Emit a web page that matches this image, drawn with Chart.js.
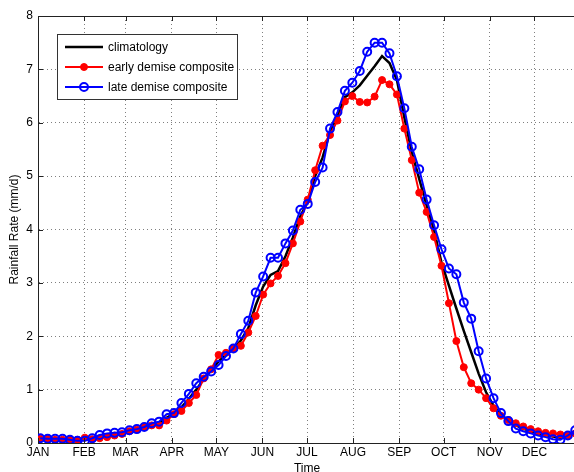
<!DOCTYPE html>
<html>
<head>
<meta charset="utf-8">
<script src="https://cdn.jsdelivr.net/npm/chart.js@4/dist/chart.umd.min.js"></script>
<style>
html,body{margin:0;padding:0;background:#fff;overflow:hidden;}
canvas{display:block;}
</style>
</head>
<body>
<canvas id="c" width="576" height="472"></canvas>
<script>
// ---- data ----
const monthLabels = ['JAN','FEB','MAR','APR','MAY','JUN','JUL','AUG','SEP','OCT','NOV','DEC'];
const monthStartDays = [0,31,59,90,120,151,181,212,243,273,304,334];
const pentads = Array.from({length:73},(_,k)=>k+1); // pentad numbers 1..73
const climatology = [0.08,0.08,0.07,0.07,0.06,0.05,0.06,0.08,0.11,0.14,0.16,0.19,0.23,0.26,0.30,0.35,0.37,0.47,0.55,0.67,0.83,1.00,1.20,1.36,1.53,1.66,1.77,1.92,2.15,2.58,2.93,3.15,3.22,3.50,3.85,4.25,4.52,5.00,5.35,5.83,6.12,6.48,6.57,6.70,6.88,7.06,7.25,7.12,6.80,6.10,5.45,4.95,4.45,3.98,3.38,2.95,2.52,2.10,1.70,1.30,0.95,0.70,0.53,0.42,0.33,0.27,0.22,0.18,0.15,0.12,0.10,0.12,0.18];
const earlyDemise = [0.08,0.08,0.06,0.06,0.06,0.06,0.10,0.07,0.09,0.11,0.14,0.17,0.22,0.25,0.30,0.33,0.33,0.42,0.54,0.60,0.75,0.90,1.21,1.38,1.65,1.69,1.77,1.82,2.07,2.38,2.78,2.99,3.13,3.37,3.74,4.15,4.56,5.11,5.57,5.77,6.04,6.40,6.50,6.39,6.38,6.49,6.80,6.72,6.53,5.89,5.30,4.69,4.33,3.86,3.32,2.62,1.91,1.42,1.12,1.00,0.84,0.65,0.51,0.43,0.37,0.31,0.26,0.22,0.19,0.18,0.16,0.14,0.18];
const lateDemise = [0.09,0.08,0.08,0.08,0.06,0.04,0.04,0.09,0.15,0.18,0.19,0.20,0.24,0.26,0.30,0.37,0.40,0.54,0.56,0.75,0.92,1.12,1.24,1.34,1.46,1.63,1.77,2.04,2.29,2.82,3.12,3.47,3.47,3.74,3.98,4.37,4.48,4.89,5.16,5.89,6.20,6.60,6.75,6.97,7.33,7.50,7.50,7.30,6.87,6.27,5.55,5.13,4.56,4.08,3.63,3.27,3.16,2.63,2.33,1.72,1.21,0.84,0.56,0.41,0.27,0.22,0.18,0.14,0.11,0.07,0.06,0.14,0.24];
const yTicks = [0,1,2,3,4,5,6,7,8];

// pentad number -> day of year (centre used for plotting)
const pentadDay = p => (p-1)*5 + 1.5;
const toPts = arr => arr.map((v,k)=>({x:pentadDay(pentads[k]), y:v}));

const FONT = 'Liberation Sans, Arial, Helvetica, sans-serif';

const frame = {
  id:'frame',
  afterDraw(chart){
    const {ctx, chartArea:a, scales:{x, y}} = chart;
    ctx.save();
    ctx.strokeStyle = '#222';
    ctx.lineWidth = 1;
    // top border
    ctx.beginPath();
    ctx.moveTo(a.left, a.top+0.5); ctx.lineTo(a.right, a.top+0.5);
    ctx.stroke();
    // inward ticks
    ctx.beginPath();
    monthStartDays.forEach(d=>{
      const px = Math.round(x.getPixelForValue(d))+0.5;
      ctx.moveTo(px, a.bottom); ctx.lineTo(px, a.bottom-5);
      ctx.moveTo(px, a.top); ctx.lineTo(px, a.top+5);
    });
    yTicks.forEach(v=>{
      const py = Math.round(y.getPixelForValue(v))+0.5;
      ctx.moveTo(a.left, py); ctx.lineTo(a.left+5, py);
    });
    ctx.stroke();

    // legend
    const bx=57.5, by=34.5, bw=180, bh=65;
    ctx.fillStyle='#fff';
    ctx.fillRect(bx,by,bw,bh);
    ctx.strokeStyle='#333';
    ctx.strokeRect(bx,by,bw,bh);
    const rows=[47,67,87];
    chart.data.datasets.forEach((ds,k)=>{
      const yy = rows[k];
      ctx.strokeStyle = ds.borderColor;
      ctx.lineWidth = ds.borderWidth;
      ctx.beginPath(); ctx.moveTo(65,yy); ctx.lineTo(103,yy); ctx.stroke();
      if (ds.pointRadius>0){
        ctx.beginPath();
        ctx.arc(84,yy,ds.pointRadius,0,Math.PI*2);
        ctx.fillStyle = ds.pointBackgroundColor;
        ctx.fill();
        ctx.lineWidth = ds.pointBorderWidth;
        ctx.strokeStyle = ds.pointBorderColor;
        ctx.stroke();
      }
      ctx.fillStyle='#000';
      ctx.font = '12px ' + FONT;
      ctx.textAlign='left';
      ctx.textBaseline='middle';
      ctx.fillText(ds.label, 108, yy+1);
    });
    ctx.restore();
  }
};

new Chart(document.getElementById('c'), {
  type:'line',
  data:{
    datasets:[
      {label:'climatology', data:toPts(climatology), borderColor:'#000000', borderWidth:2.5,
       pointRadius:0, pointHoverRadius:0, order:2, tension:0},
      {label:'early demise composite', data:toPts(earlyDemise), borderColor:'#ff0000', borderWidth:2,
       pointRadius:3.5, pointBorderWidth:1, pointBackgroundColor:'#ff0000', pointBorderColor:'#ff0000', order:1, tension:0},
      {label:'late demise composite', data:toPts(lateDemise), borderColor:'#0000ff', borderWidth:2,
       pointRadius:4, pointBorderWidth:2, pointBackgroundColor:'rgba(0,0,0,0)', pointBorderColor:'#0000ff', order:0, tension:0}
    ]
  },
  options:{
    responsive:false,
    animation:false,
    events:[],
    layout:{autoPadding:false, padding:{top:16,right:0,left:0,bottom:0}},
    plugins:{legend:{display:false}, tooltip:{enabled:false}},
    scales:{
      x:{
        type:'linear', min:0, max:362,
        afterFit(s){ s.height = 29; },
        afterBuildTicks(s){ s.ticks = monthStartDays.map(v=>({value:v})); },
        ticks:{autoSkip:false, maxRotation:0, padding:2, color:'#000',
          font:{family:FONT, size:12},
          callback:(v,i)=>monthLabels[i]},
        grid:{color:'rgba(0,0,0,0.5)', lineWidth:1, drawTicks:false},
        border:{display:true, color:'#222', width:1, dash:[1,3]},
        title:{display:true, text:'Time', color:'#000', font:{family:FONT, size:12, lineHeight:1.2}, padding:{top:0,bottom:-4}}
      },
      y:{
        min:0, max:8,
        afterFit(s){ s.width = 38; },
        afterBuildTicks(s){ s.ticks = yTicks.map(v=>({value:v})); },
        ticks:{padding:5, color:'#000', font:{family:FONT, size:12}},
        grid:{color:'rgba(0,0,0,0.5)', lineWidth:1, drawTicks:false},
        border:{display:true, color:'#222', width:1, dash:[1,3]},
        title:{display:true, text:'Rainfall Rate (mm/d)', color:'#000', font:{family:FONT, size:12, lineHeight:1.2}, padding:{top:7,bottom:0}}
      }
    }
  },
  plugins:[frame]
});
</script>
</body>
</html>
